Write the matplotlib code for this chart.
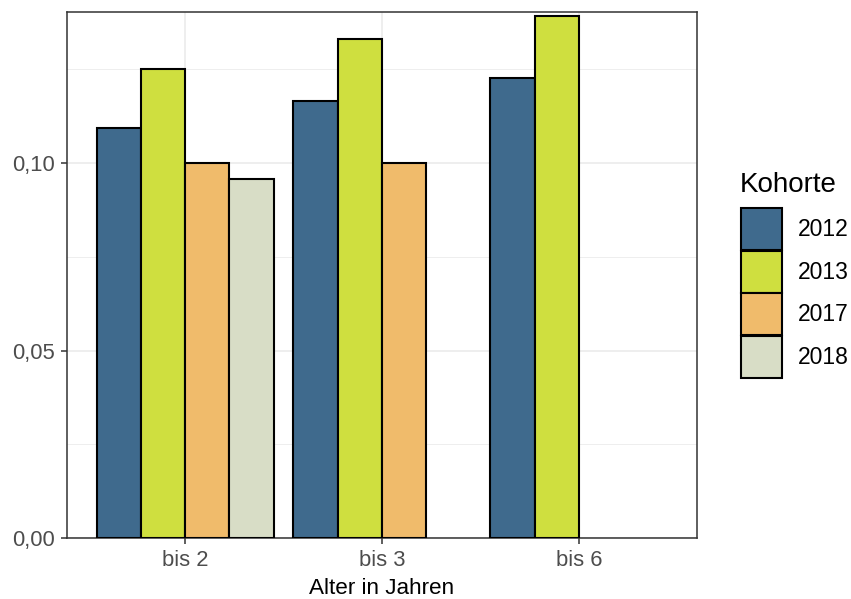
#!/usr/bin/env python3
# Anteil je Altersgruppe und Kohorte, gruppierte Balken

import numpy as np
import matplotlib
matplotlib.use('Agg')
import matplotlib.pyplot as plt
from matplotlib.ticker import FuncFormatter, MultipleLocator

plt.rcParams['font.family'] = ['Liberation Sans', 'DejaVu Sans']

categories = ['bis 2', 'bis 3', 'bis 6']
cohorts = ['2012', '2013', '2017', '2018']
# None = no bar for this cohort in this age group
values = {
    '2012': [0.1094, 0.1166, 0.1227],
    '2013': [0.1251, 0.1330, 0.1392],
    '2017': [0.0999, 0.0999, None],
    '2018': [0.0957, None, None],
}
colors = {'2012': '#3f6a8d', '2013': '#cfdf3f', '2017': '#f0bb6b', '2018': '#d8ddc6'}

fig = plt.figure(figsize=(8.51, 5.99), dpi=100)
ax = fig.add_axes([67/851, 1-538/599, (697-67)/851, (538-12)/599])

x = np.arange(len(categories))
width = 0.9/len(cohorts)
# ggplot position_dodge(preserve='single'): bars fill from the left of each group
for i, cat in enumerate(categories):
    k = 0
    for c in cohorts:
        v = values[c][i]
        if v is None:
            continue
        left = x[i] - 0.45 + k*width
        ax.bar(left, v, width=width, align='edge', color=colors[c],
               edgecolor='black', linewidth=1.5, zorder=3,
               label=c if i == 0 else None)
        k += 1

ax.set_xlim(-0.6, len(categories)-1+0.6)
ax.set_ylim(0, 0.1403)
ax.set_xticks(x)
ax.set_xticklabels(categories)
ax.yaxis.set_major_locator(MultipleLocator(0.05))
ax.yaxis.set_minor_locator(MultipleLocator(0.025))
ax.yaxis.set_major_formatter(FuncFormatter(lambda v, p: ('%.2f' % v).replace('.', ',')))

ax.grid(True, which='major', color='#ebebeb', linewidth=1.2, zorder=0)
ax.grid(True, which='minor', axis='y', color='#ebebeb', linewidth=0.6, zorder=0)
ax.set_axisbelow(True)
for s in ax.spines.values():
    s.set_color('#333333')
    s.set_linewidth(1.1)
ax.tick_params(axis='both', which='major', length=4, width=1.1, color='#333333',
               labelsize=15.8, labelcolor='#4d4d4d', pad=4.5)
ax.tick_params(axis='y', which='minor', length=0)

ax.set_xlabel('Alter in Jahren', fontsize=16.2, color='black', labelpad=5)

# legend title placed separately to get the ggplot spacing
fig.text(740/851, 1-192/599, 'Kohorte', fontsize=20, ha='left', va='baseline')
leg = ax.legend(loc='upper left', bbox_to_anchor=(741/851, 1-208/599),
                bbox_transform=fig.transFigure, frameon=False, fontsize=16.5,
                handlelength=1.79, handleheight=2.44,
                labelspacing=0.03, handletextpad=0.7, borderpad=0, borderaxespad=0)

fig.savefig('out.png', dpi=100)
